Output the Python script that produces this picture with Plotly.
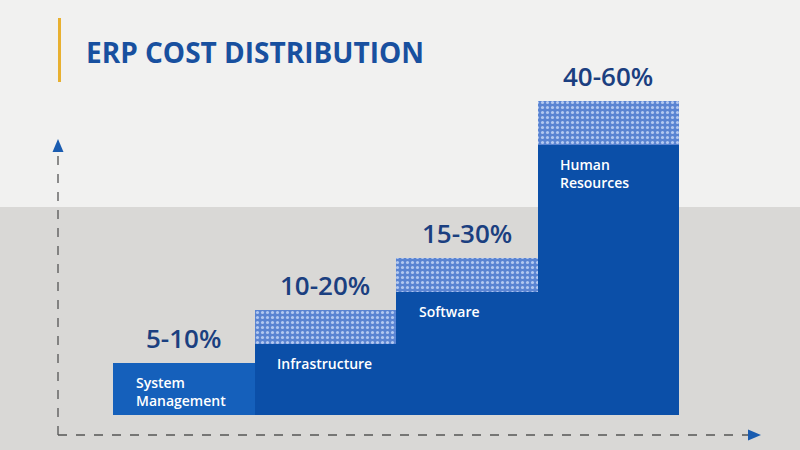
import plotly.graph_objects as go

# ---- data ----
categories = ["System<br>Management", "Infrastructure", "Software", "Human<br>Resources"]
range_labels = ["5-10%", "10-20%", "15-30%", "40-60%"]
solid_part = [10, 13.5, 23.5, 51.5]     # solid blue block height
band_part = [0, 6.5, 6.5, 8.5]          # dotted band on top
positions = [0, 1, 2, 3]

totals = [s + b for s, b in zip(solid_part, band_part)]

W, H = 800, 450
FONT = "Open Sans"

fig = go.Figure()

fig.add_trace(go.Bar(
    x=positions, y=solid_part, width=1,
    marker=dict(color=["#1560bb", "#0b4fa8", "#0b4fa8", "#0b4fa8"], line=dict(width=0)),
    hoverinfo="skip", showlegend=False,
))
fig.add_trace(go.Bar(
    x=positions, y=band_part, width=1,
    marker=dict(color="#5a84d2", line=dict(width=0),
                pattern=dict(shape=".", fgcolor="#b3c9f0", bgcolor="#5a84d2",
                             size=5, solidity=0.3, fillmode="replace")),
    hoverinfo="skip", showlegend=False,
))

annotations = []
for p, cat, s, t, lab in zip(positions, categories, solid_part, totals, range_labels):
    annotations.append(dict(
        x=p - 0.5 + 0.145, y=s, xref="x", yref="y", text=cat, showarrow=False,
        xanchor="left", yanchor="top", yshift=-8, align="left",
        font=dict(family=FONT, size=14, color="white", weight=600),
    ))
    annotations.append(dict(
        x=p, y=t, xref="x", yref="y", text=lab, showarrow=False,
        xanchor="center", yanchor="bottom", yshift=5,
        font=dict(family=FONT, size=26, color="#1b3f80", weight=600),
    ))

annotations.append(dict(
    x=84 / W, y=1 - 52 / H, xref="paper", yref="paper", text="ERP COST DISTRIBUTION",
    showarrow=False, xanchor="left", yanchor="middle",
    font=dict(family=FONT, size=28, color="#18509f", weight=700),
))

def px(x):
    return x / W

def py(y):
    return 1 - y / H

shapes = [
    # backgrounds
    dict(type="rect", xref="paper", yref="paper", x0=0, x1=1, y0=py(207), y1=1,
         fillcolor="#f1f1f0", line=dict(width=0), layer="below"),
    dict(type="rect", xref="paper", yref="paper", x0=0, x1=1, y0=0, y1=py(207),
         fillcolor="#d9d8d6", line=dict(width=0), layer="below"),
    # title accent bar
    dict(type="line", xref="paper", yref="paper", x0=px(59.5), x1=px(59.5), y0=py(18), y1=py(82),
         line=dict(color="#e8b030", width=3)),
    # dashed axes
    dict(type="line", xref="paper", yref="paper", x0=px(58), x1=px(58), y0=py(435), y1=py(150),
         line=dict(color="#555555", width=1.3, dash="dash")),
    dict(type="line", xref="paper", yref="paper", x0=px(58), x1=px(750), y0=py(435), y1=py(435),
         line=dict(color="#555555", width=1.3, dash="dash")),
    # arrowheads
    dict(type="path", xref="paper", yref="paper",
         path=f"M {px(58)} {py(139)} L {px(52.5)} {py(152)} L {px(63.5)} {py(152)} Z",
         fillcolor="#1a5cb0", line=dict(width=0)),
    dict(type="path", xref="paper", yref="paper",
         path=f"M {px(761)} {py(435)} L {px(748)} {py(429.5)} L {px(748)} {py(440.5)} Z",
         fillcolor="#1a5cb0", line=dict(width=0)),
]

# axis mapping: value 0 -> pixel 415, value 60 -> pixel 101; bar x=-0.5 -> 113 px, 3.5 -> 679 px
y_span = 450 * 60 / 314
y0 = -35 * y_span / 450
x_unit = 566 / 4
x0 = -0.5 - 113 / x_unit

fig.update_layout(
    width=W, height=H, margin=dict(l=0, r=0, t=0, b=0),
    barmode="stack", bargap=0,
    paper_bgcolor="#f1f1f0", plot_bgcolor="rgba(0,0,0,0)",
    xaxis=dict(range=[x0, x0 + W / x_unit], visible=False, fixedrange=True),
    yaxis=dict(range=[y0, y0 + y_span], visible=False, fixedrange=True),
    shapes=shapes, annotations=annotations,
)

fig.write_html("out.html")
